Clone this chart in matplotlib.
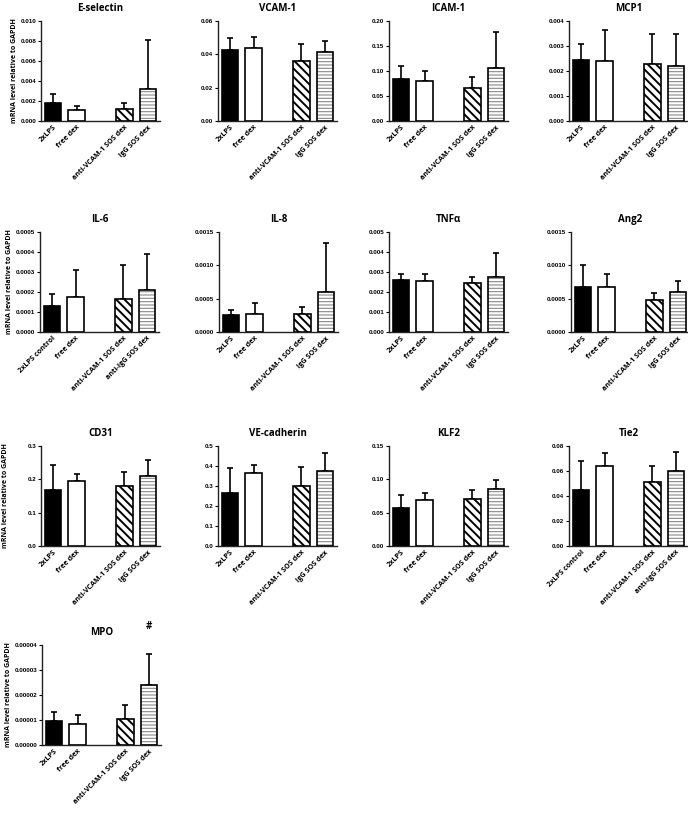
import numpy as np
import matplotlib
matplotlib.use("Agg")
import matplotlib.pyplot as plt
from matplotlib.ticker import FixedLocator, FormatStrFormatter

plt.rcParams['hatch.linewidth'] = 1.4
plt.rcParams['font.family'] = ['Open Sans', 'DejaVu Sans']

# ---------------- data ----------------
labels_std = ["2xLPS", "free dex", "anti-VCAM-1 SOS dex", "IgG SOS dex"]
labels_ctrl = ["2xLPS control", "free dex", "anti-VCAM-1 SOS dex", "anti-IgG SOS dex"]
positions = [0, 1, 3, 4]

e_selectin_mean = [0.0018, 0.0011, 0.0012, 0.0032]
e_selectin_err = [0.0009, 0.0004, 0.0006, 0.0049]
vcam1_mean = [0.0428, 0.0438, 0.0362, 0.0412]
vcam1_err = [0.0072, 0.0068, 0.0098, 0.0070]
icam1_mean = [0.084, 0.080, 0.0667, 0.106]
icam1_err = [0.027, 0.021, 0.0213, 0.072]
mcp1_mean = [0.00243, 0.0024, 0.00227, 0.00221]
mcp1_err = [0.00065, 0.00123, 0.00122, 0.00126]
il6_mean = [0.000132, 0.000175, 0.000165, 0.000208]
il6_err = [0.00006, 0.000133, 0.000172, 0.000184]
il8_mean = [0.000255, 0.00027, 0.00027, 0.0006]
il8_err = [0.000075, 0.00016, 0.000105, 0.000735]
tnfa_mean = [0.0026, 0.00253, 0.00243, 0.00273]
tnfa_err = [0.0003, 0.00037, 0.00034, 0.00122]
ang2_mean = [0.000675, 0.00068, 0.00048, 0.000595]
ang2_err = [0.000325, 0.00019, 0.000105, 0.00017]
cd31_mean = [0.167, 0.196, 0.179, 0.21]
cd31_err = [0.075, 0.019, 0.044, 0.047]
vecad_mean = [0.267, 0.367, 0.30, 0.375]
vecad_err = [0.125, 0.038, 0.095, 0.092]
klf2_mean = [0.0575, 0.0695, 0.0705, 0.086]
klf2_err = [0.0185, 0.010, 0.0135, 0.0135]
tie2_mean = [0.045, 0.0637, 0.0515, 0.0597]
tie2_err = [0.023, 0.0107, 0.0122, 0.0158]
mpo_mean = [9.6e-6, 8.4e-6, 1.04e-5, 2.4e-5]
mpo_err = [3.6e-6, 3.6e-6, 5.6e-6, 1.24e-5]

# title, mean, err, ymax, step, decimals, labels
panels = [
    ("E-selectin", e_selectin_mean, e_selectin_err, 0.010, 0.002, 3, labels_std),
    ("VCAM-1", vcam1_mean, vcam1_err, 0.06, 0.02, 2, labels_std),
    ("ICAM-1", icam1_mean, icam1_err, 0.20, 0.05, 2, labels_std),
    ("MCP1", mcp1_mean, mcp1_err, 0.004, 0.001, 3, labels_std),
    ("IL-6", il6_mean, il6_err, 0.0005, 0.0001, 4, labels_ctrl),
    ("IL-8", il8_mean, il8_err, 0.0015, 0.0005, 4, labels_std),
    ("TNF\u03b1", tnfa_mean, tnfa_err, 0.005, 0.001, 3, labels_std),
    ("Ang2", ang2_mean, ang2_err, 0.0015, 0.0005, 4, labels_std),
    ("CD31", cd31_mean, cd31_err, 0.3, 0.1, 1, labels_std),
    ("VE-cadherin", vecad_mean, vecad_err, 0.5, 0.1, 1, labels_std),
    ("KLF2", klf2_mean, klf2_err, 0.15, 0.05, 2, labels_std),
    ("Tie2", tie2_mean, tie2_err, 0.08, 0.02, 2, labels_ctrl),
    ("MPO", mpo_mean, mpo_err, 0.00004, 0.00001, 5, labels_std),
]

# ---------------- layout (pixels) ----------------
W, H = 688, 819
row_tops = [21, 232, 446, 645]
col_lefts = [[41, 218, 389, 569], [40, 219, 389, 571], [41, 218, 389, 569], [42]]
ylabel_x = [-0.19, -0.225, -0.265, -0.255]
AX_W, AX_H = 119, 100

fills = ["black", "white", "white", "white"]
hatches = [None, None, "\\\\\\\\", "-----"]

fig = plt.figure(figsize=(W / 100, H / 100), dpi=100)

idx = 0
for r, top in enumerate(row_tops):
    for left in col_lefts[r]:
        title, mean, err, ymax, step, dec, labels = panels[idx]
        idx += 1
        ax = fig.add_axes([left / W, 1 - (top + AX_H) / H, AX_W / W, AX_H / H])
        for i, (p, m, fc, hh) in enumerate(zip(positions, mean, fills, hatches)):
            if i == 3:
                # light horizontal stripes, then black outline on top
                bb = ax.bar(p, m, width=0.7, color=fc, edgecolor="#8a8a8a", linewidth=0,
                            hatch=hh, zorder=3)
                for patch in bb:
                    if hasattr(patch, "set_hatch_linewidth"):
                        patch.set_hatch_linewidth(0.8)
                ax.bar(p, m, width=0.7, fill=False, edgecolor="black", linewidth=1.2,
                       zorder=4)
            else:
                ax.bar(p, m, width=0.7, color=fc, edgecolor="black", linewidth=1.2,
                       hatch=hh, zorder=3)
        ax.errorbar(positions, mean, yerr=[np.zeros(len(mean)), err], fmt="none",
                    ecolor="black", elinewidth=1.2, capsize=2.3, capthick=1.2, zorder=2)
        ax.set_xlim(-0.5, 4.5)
        ax.set_ylim(0, ymax)
        ax.yaxis.set_major_locator(FixedLocator(np.arange(0, ymax + step / 2, step)))
        ax.yaxis.set_major_formatter(FormatStrFormatter("%%.%df" % dec))
        for s in ["top", "right"]:
            ax.spines[s].set_visible(False)
        for s in ["left", "bottom"]:
            ax.spines[s].set_linewidth(1.0)
            ax.spines[s].set_color("#222222")
        ax.set_xticks(positions)
        ax.set_xticklabels(labels, rotation=45, ha="right", rotation_mode="anchor",
                           fontsize=5.2, fontweight="bold")
        ax.tick_params(axis="x", length=0, pad=2)
        ax.tick_params(axis="y", length=2, width=0.8, pad=1.5, labelsize=4.5)
        for t in ax.get_yticklabels():
            t.set_fontweight("bold")
            t.set_family(["Liberation Sans", "DejaVu Sans"])
        ax.set_title(title, fontsize=7, fontweight="bold", pad=7)
        if left == col_lefts[r][0]:
            ax.set_ylabel("mRNA level relative to GAPDH", fontsize=5.0, fontweight="bold")
            ax.yaxis.set_label_coords(ylabel_x[r], 0.5)
        if title == "MPO":
            ax.text(positions[3], ymax * 1.13, "#", ha="center", va="bottom",
                    fontsize=7, fontweight="bold")

fig.savefig("out.png", dpi=100)
